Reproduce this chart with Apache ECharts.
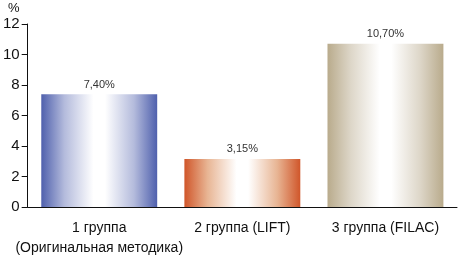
<!DOCTYPE html>
<html>
<head>
<meta charset="utf-8">
<script src="https://cdn.jsdelivr.net/npm/echarts@6/dist/echarts.min.js"></script>
<style>
body { margin:0; background:#fff; }
#main { width:458px; height:259px; }
</style>
</head>
<body>
<div id="main"></div>
<script>
// данные
var groups = ['1 группа\n(Оригинальная методика)', '2 группа (LIFT)', '3 группа (FILAC)'];
var values = [7.40, 3.15, 10.70];
var valueLabels = ['7,40%', '3,15%', '10,70%'];
var edgeColors = ['#4f60ad', '#d0562a', '#b9ab8c'];
var midColors = ['#b4bbdc', '#e8b594', '#ddd6c8'];

var font = '"Liberation Sans Narrow", "Liberation Sans", Arial, sans-serif';

function grad(i) {
    return new echarts.graphic.LinearGradient(0, 0, 1, 0, [
        {offset: 0, color: edgeColors[i]},
        {offset: 0.2, color: midColors[i]},
        {offset: 0.45, color: '#ffffff'},
        {offset: 0.55, color: '#ffffff'},
        {offset: 0.8, color: midColors[i]},
        {offset: 1, color: edgeColors[i]}
    ]);
}

var myChart = echarts.init(document.getElementById('main'));
var option = {
    animation: false,
    grid: {left: 24, right: 1, top: 24, bottom: 52},
    title: {
        text: '%', left: 3, top: -3,
        textStyle: {fontSize: 13, fontWeight: 'normal', color: '#111', fontFamily: font}
    },
    xAxis: {
        type: 'category',
        data: groups,
        axisLine: {lineStyle: {color: '#111', width: 1}},
        axisTick: {length: 4, lineStyle: {color: '#111'}},
        axisLabel: {
            color: '#111', fontSize: 14, fontFamily: font,
            margin: 11, lineHeight: 20, interval: 0
        }
    },
    yAxis: {
        type: 'value',
        min: 0, max: 12, interval: 2,
        splitLine: {show: false},
        axisLine: {show: true, lineStyle: {color: '#111', width: 1}},
        axisTick: {show: true, length: 6, lineStyle: {color: '#111'}},
        axisLabel: {color: '#111', fontSize: 15, fontFamily: font, margin: 8}
    },
    series: [{
        type: 'bar',
        barWidth: '81%',
        data: values.map(function (v, i) {
            return {value: v, itemStyle: {color: grad(i)}};
        }),
        label: {
            show: true, position: 'top', distance: 4,
            color: '#333', fontSize: 11, fontFamily: font,
            formatter: function (p) { return valueLabels[p.dataIndex]; }
        }
    }]
};
myChart.setOption(option);
</script>
</body>
</html>
